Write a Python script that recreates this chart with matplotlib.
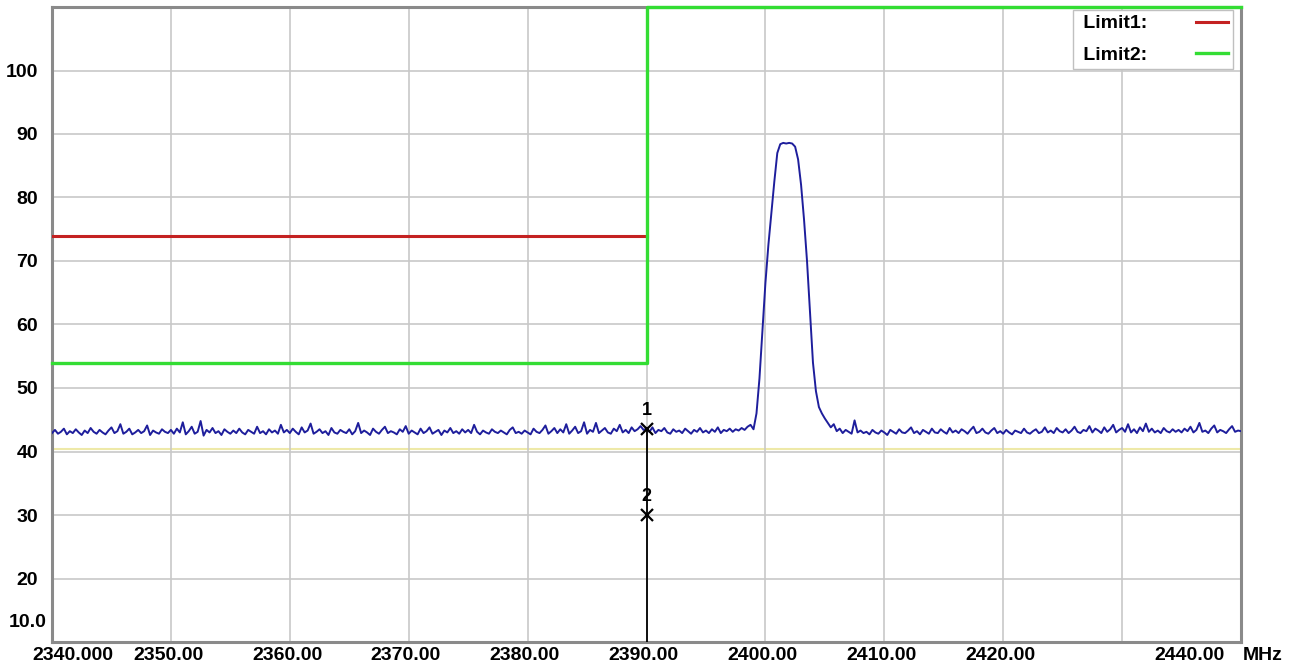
import numpy as np
import matplotlib.pyplot as plt

plt.rcParams['font.family'] = ['Liberation Sans', 'DejaVu Sans']
plt.rcParams['font.weight'] = 'bold'

# Spectrum trace, 2340..2440 MHz in 0.25 MHz steps (dBuV/m)
freq = np.linspace(2340, 2440, 401)
level = [
    42.9, 43.4, 42.8, 43.1, 43.6, 42.7, 43.2, 42.9, 43.5, 43.0, 42.6, 43.3, 42.9, 43.7, 43.1, 42.8, 43.4, 43.0, 42.7, 43.3,
    43.8, 42.9, 43.2, 44.3, 42.8, 43.1, 43.6, 42.7, 43.0, 43.4, 42.9, 43.2, 44.1, 42.6, 43.3, 43.0, 42.8, 43.5, 43.1, 42.9,
    43.4, 42.8, 43.6, 43.0, 44.6, 42.7, 43.2, 43.9, 42.8, 43.1, 44.8, 42.5, 43.4, 43.0, 43.7, 42.9, 43.2, 42.6, 43.5, 43.1,
    42.8, 43.3, 42.9, 43.6, 43.0, 42.7, 43.4, 43.1, 42.8, 43.9, 42.9, 43.2, 42.7, 43.5, 43.0, 43.3, 42.8, 44.2, 43.0, 43.4,
    42.9, 43.6, 43.1, 42.7, 43.8, 43.0, 43.3, 44.4, 42.8, 43.1, 43.5, 42.9, 43.2, 42.6, 43.7, 43.0, 42.8, 43.4, 43.1, 42.9,
    43.5, 42.7, 43.2, 44.5, 42.9, 43.3, 43.0, 42.6, 43.6, 43.1, 42.8, 43.4, 43.9, 42.9, 43.2, 43.0, 42.7, 43.5, 43.1, 44.0,
    42.8, 43.3, 43.0, 42.7, 43.6, 42.9, 43.2, 43.8, 42.8, 43.1, 43.4, 42.6, 43.3, 43.0, 43.7, 42.9, 43.2, 42.8, 43.5, 43.0,
    43.4, 42.9, 44.2, 43.1, 42.7, 43.3, 43.0, 42.8, 43.5, 43.1, 42.9, 43.3, 43.0, 42.7, 43.4, 43.8, 42.9, 43.1, 42.8, 43.3,
    43.0, 42.7, 43.6, 43.1, 42.9, 43.4, 44.1, 42.8, 43.2, 43.7, 42.9, 43.5, 43.0, 44.3, 42.8, 43.3, 43.9, 42.9, 43.2, 44.6,
    42.8, 43.4, 43.1, 44.5, 42.9, 43.3, 43.7, 43.0, 42.8, 43.6, 43.2, 44.2, 43.0, 43.4, 42.9, 43.8, 43.2, 43.5, 44.0, 43.4,
    43.6, 43.1, 43.8, 42.9, 43.4, 43.2, 43.7, 43.0, 42.8, 43.5, 43.1, 43.3, 42.9, 43.6, 43.2, 42.8, 43.4, 43.1, 43.7, 43.0,
    43.3, 42.9, 43.5, 43.1, 43.8, 42.9, 43.4, 43.2, 43.6, 43.1, 43.5, 43.3, 43.7, 43.4, 43.9, 44.2, 43.5, 46.0, 51.5, 59.0,
    66.5, 72.5, 77.5, 82.5, 87.0, 88.4, 88.6, 88.5, 88.6, 88.5, 88.0, 86.0, 82.0, 76.5, 70.0, 62.0, 54.0, 49.5, 47.0, 46.0,
    45.2, 44.5, 43.8, 44.3, 43.2, 43.6, 42.9, 43.4, 43.1, 42.8, 44.9, 43.0, 43.3, 42.9, 43.1, 42.7, 43.4, 43.0, 42.8, 43.3,
    43.0, 42.6, 43.4, 43.1, 42.8, 43.5, 43.0, 42.9, 43.3, 43.8, 42.9, 43.2, 42.7, 43.4, 43.1, 42.8, 43.6, 43.0, 42.9, 43.5,
    43.1, 42.8, 43.7, 43.0, 43.3, 42.9, 43.5, 43.2, 42.8, 43.4, 43.9, 42.9, 43.1, 43.6, 43.0, 42.8, 43.3, 43.7, 42.9, 43.2,
    42.8, 43.4, 43.0, 42.7, 43.3, 43.1, 42.9, 43.6, 43.0, 42.8, 43.2, 43.5, 42.9, 43.1, 43.8, 43.0, 43.3, 42.9, 43.7, 43.2,
    43.0, 43.5, 42.9, 43.3, 43.9, 43.1, 42.9, 43.4, 43.2, 44.0, 43.0, 43.6, 43.3, 42.9, 43.8, 43.1, 43.5, 44.2, 43.0, 43.4,
    43.7, 43.1, 44.3, 43.0, 43.5, 42.9, 43.8, 43.2, 44.4, 43.1, 43.6, 43.0, 43.3, 42.9, 43.7, 43.2, 43.0, 43.5, 43.1, 43.4,
    43.0, 43.6, 43.2, 43.9, 43.0, 43.4, 44.5, 43.1, 43.3, 42.9, 43.6, 44.1, 43.0, 43.4, 43.2, 42.9, 43.5, 44.0, 43.1, 43.3,
    43.2,
]

# limit lines
limit1_freq = [2340, 2390]
limit1_level = [74, 74]
limit2_freq = [2340, 2390, 2390, 2440]
limit2_level = [54, 54, 110, 110]

# markers
marker_names = ['1', '2']
marker_freq = [2390, 2390]
marker_level = [43.6, 30.0]

x_ticks = [2340, 2350, 2360, 2370, 2380, 2390, 2400, 2410, 2420, 2430, 2440]
x_labels = ['2340.000', '2350.00', '2360.00', '2370.00', '2380.00', '2390.00',
            '2400.00', '2410.00', '2420.00', '', '2440.00']
y_ticks = [20, 30, 40, 50, 60, 70, 80, 90, 100]
y_labels = ['20', '30', '40', '50', '60', '70', '80', '90', '100']

fig = plt.figure(figsize=(12.95, 6.68), dpi=100)
ax = fig.add_axes([52/1295, 26/668, 1189/1295, 635/668])
ax.set_xlim(2340, 2440)
ax.set_ylim(10, 110)

ax.set_xticks(x_ticks)
ax.set_yticks(y_ticks, y_labels)
ax.grid(True, color='#c8c8c8', lw=1.2)
ax.tick_params(length=0, labelbottom=False, labelsize=14, pad=10)
for s in ax.spines.values():
    s.set_color('#8a8a8a')
    s.set_linewidth(2.2)

# faint yellow reference line near 40
ax.axhline(40.4, color='#eee9a8', lw=1.5, zorder=1.5)

# x labels by hand (first/last shifted like the analyser does)
for x, lab in zip(x_ticks, x_labels):
    ha, dx = 'center', -2
    if x == 2340:
        ha, dx = 'left', -14
    elif x == 2440:
        ha, dx = 'right', -12
    ax.annotate(lab, xy=(x, 0), xycoords=('data', 'axes fraction'),
                xytext=(dx, -9.5), textcoords='offset points',
                ha=ha, va='center', fontsize=14, fontweight='bold')
ax.annotate('MHz', xy=(1, 0), xycoords='axes fraction', xytext=(1, -9.5),
            textcoords='offset points', ha='left', va='center', fontsize=14, fontweight='bold')
ax.annotate('10.0', xy=(0, 13.1), xycoords=('axes fraction', 'data'), xytext=(-4, 0),
            textcoords='offset points', ha='right', va='center', fontsize=14, fontweight='bold')

l1, = ax.plot(limit1_freq, limit1_level, color='#c42222', lw=2.2, zorder=4)
l2, = ax.plot(limit2_freq, limit2_level, color='#33dd33', lw=2.4, zorder=6, clip_on=False)
ax.plot(freq, level, color='#1e1e9c', lw=1.4, zorder=3)

# marker line + markers
ax.plot([marker_freq[0], marker_freq[0]], [10, marker_level[0]], color='black', lw=1.3, zorder=4)
ax.plot(marker_freq, marker_level, 'x', color='black', ms=8, mew=1.6, zorder=5)
for name, mf, ml in zip(marker_names, marker_freq, marker_level):
    ax.annotate(name, xy=(mf, ml), xytext=(0, 7), textcoords='offset points',
                ha='center', va='bottom', fontsize=13, fontweight='bold')

leg = ax.legend([l1, l2], [' Limit1:', ' Limit2:'], loc='upper right',
                bbox_to_anchor=(0.9933, 0.9953), borderaxespad=0, markerfirst=False,
                prop={'size': 14, 'weight': 'bold'}, handlelength=1.65, handletextpad=2.5,
                borderpad=0.25, labelspacing=0.7, fancybox=False, framealpha=1,
                edgecolor='#c0c0c0')
leg.get_frame().set_linewidth(1)

plt.savefig('out.png', dpi=100)
